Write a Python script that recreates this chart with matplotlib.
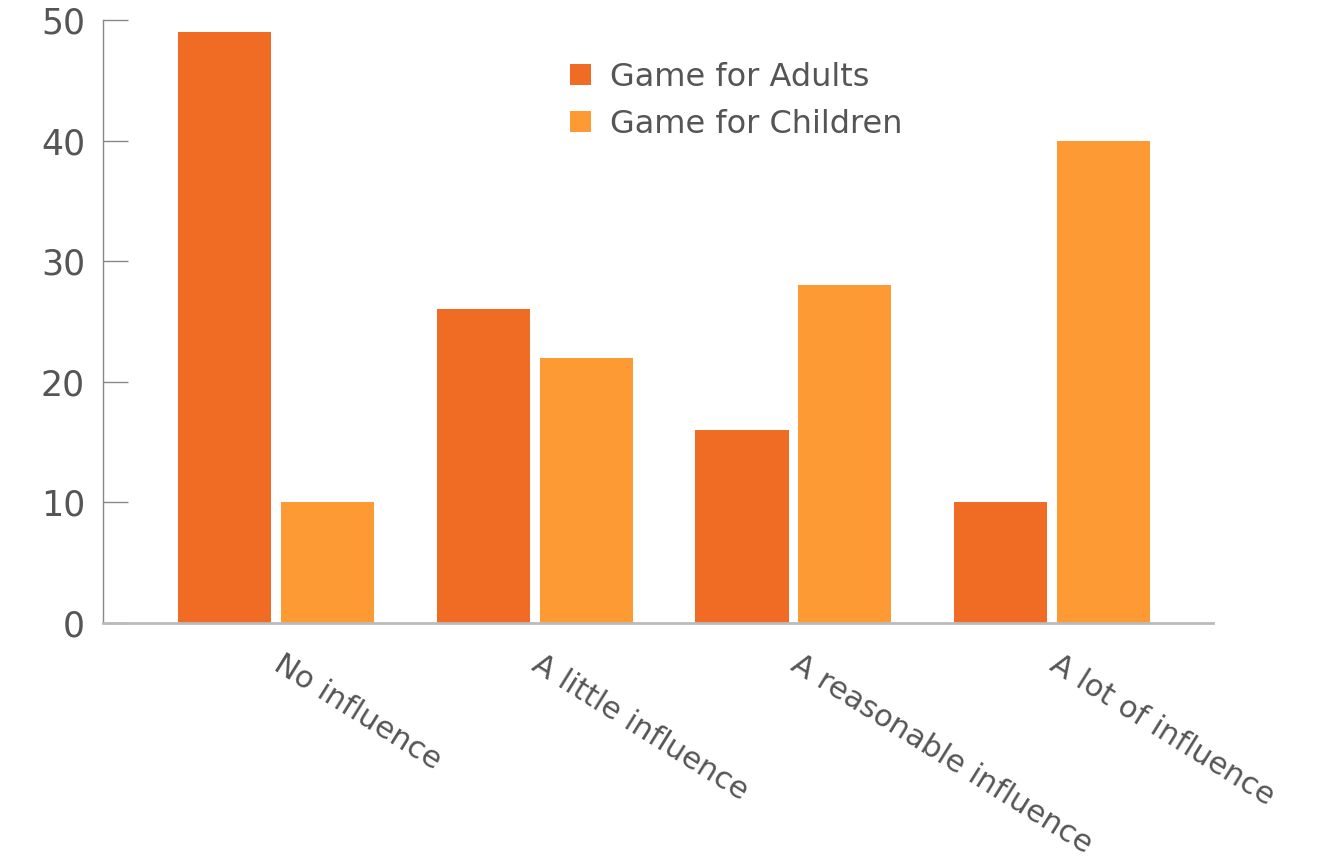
import numpy as np
import matplotlib
matplotlib.use("Agg")
import matplotlib.pyplot as plt

# ── data ─────────────────────────────────────────────
categories = ["No influence", "A little influence",
              "A reasonable influence", "A lot of influence"]
series_names = ["Game for Adults", "Game for Children"]
adults = [49, 26, 16, 10]
children = [10, 22, 28, 40]
y_ticks = [0, 10, 20, 30, 40, 50]

C_ADULT = "#F06B24"
C_CHILD = "#FE9A34"
TXT = "#555555"

plt.rcParams["font.family"] = ["DejaVu Sans"]

fig = plt.figure(figsize=(13.25, 8.57), dpi=100)
ax = fig.add_axes([103 / 1325, 1 - 623 / 857, (1213 - 103) / 1325, (623 - 20) / 857])

x = np.arange(len(categories))
w = 0.36
off = 0.199
ax.bar(x - off, adults, w, color=C_ADULT, label=series_names[0], zorder=2)
ax.bar(x + off, children, w, color=C_CHILD, label=series_names[1], zorder=2)

ax.set_xlim(-0.669, 3.622)
ax.set_ylim(0, 50)
ax.set_yticks(y_ticks)
ax.set_yticklabels([str(t) for t in y_ticks], fontsize=25, color=TXT)
ax.tick_params(axis="y", direction="in", length=18, width=1, color="#888888", pad=13)
ax.set_xticks([])

for s in ("top", "right"):
    ax.spines[s].set_visible(False)
ax.spines["left"].set_color("#888888")
ax.spines["left"].set_linewidth(1)
ax.spines["bottom"].set_color("#bbbbbb")
ax.spines["bottom"].set_linewidth(2)

for xi, lab in zip(x, categories):
    ax.text(xi + 0.03, -2.2, lab, rotation=-32, rotation_mode="anchor",
            ha="left", va="top", fontsize=22, color=TXT)

ax.legend(loc="upper left", bbox_to_anchor=(541 / 1325, 1 - 33 / 857),
          bbox_transform=fig.transFigure, frameon=False, fontsize=23,
          handlelength=0.65, handleheight=0.65, handletextpad=0.6,
          labelspacing=0.5, labelcolor=TXT)

fig.savefig("out.png", dpi=100)
